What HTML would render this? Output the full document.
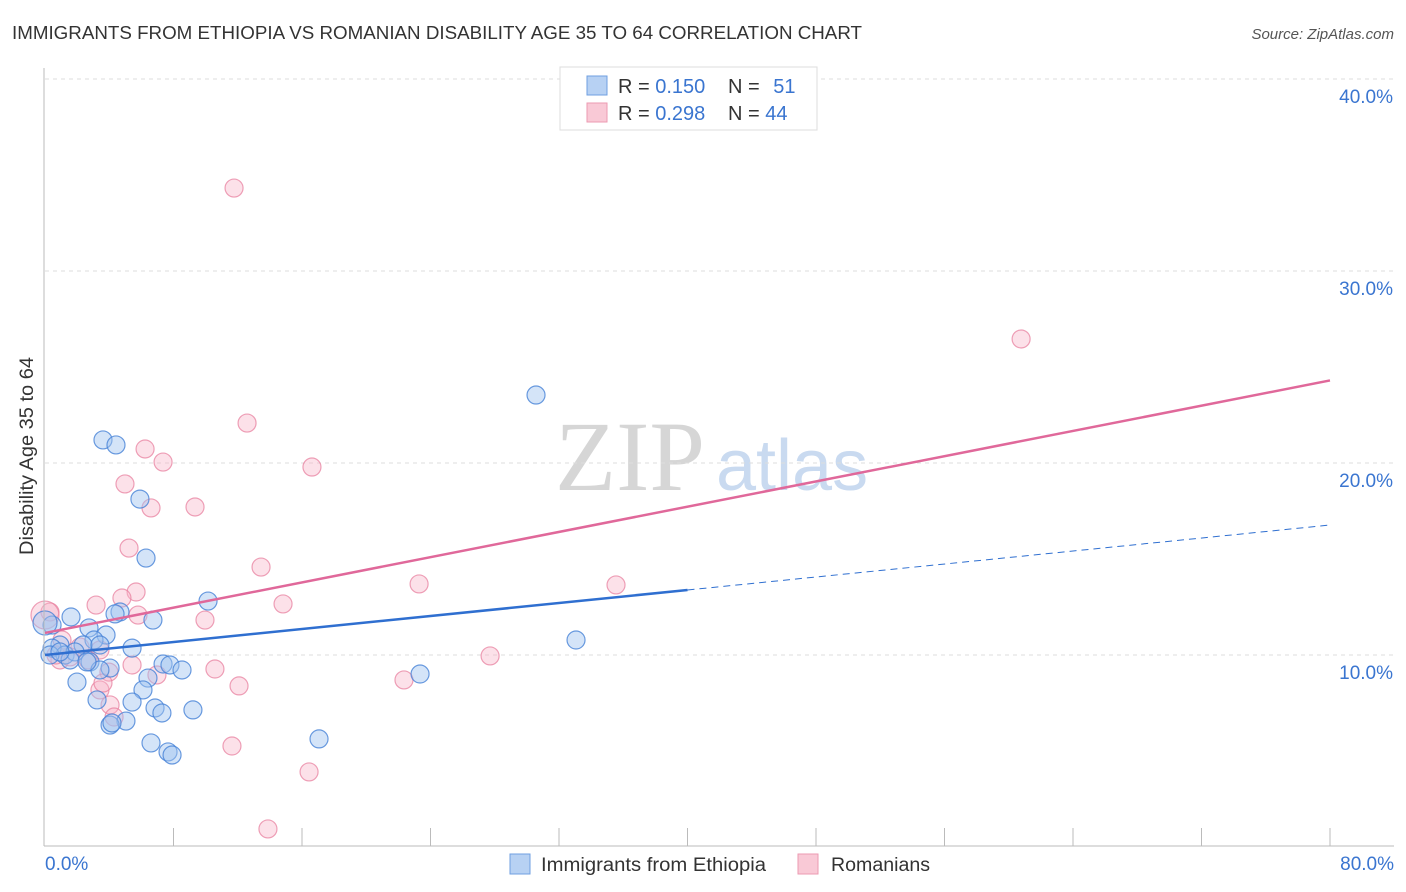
<!DOCTYPE html>
<html><head><meta charset="utf-8"><style>
body{margin:0;background:#fff;font-family:"Liberation Sans",sans-serif;}
#wrap{position:relative;width:1406px;height:892px;overflow:hidden;}
</style></head><body>
<div id="wrap">
<svg id="svg" width="1406" height="892" xmlns="http://www.w3.org/2000/svg">
<text x="12" y="39" font-size="18" fill="#333" textLength="850" lengthAdjust="spacingAndGlyphs">IMMIGRANTS FROM ETHIOPIA VS ROMANIAN DISABILITY AGE 35 TO 64 CORRELATION CHART</text>
<text x="1394" y="39" font-size="15" fill="#555" text-anchor="end" font-style="italic">Source: ZipAtlas.com</text>
<text x="33" y="456" font-size="19" fill="#333" text-anchor="middle" transform="rotate(-90 33 456)" textLength="198" lengthAdjust="spacingAndGlyphs">Disability Age 35 to 64</text>
<text x="555" y="490" font-size="100" fill="#d6d6d6" font-family="Liberation Serif,serif">ZIP</text>
<text x="716" y="490" font-size="72" fill="#c9daf0">atlas</text>
<g id="grid"></g><g id="pts"></g><g id="lines"></g>
<line x1="44" y1="68" x2="44" y2="846" stroke="#bbb"/>
<line x1="44" y1="846" x2="1394" y2="846" stroke="#bbb"/>
<text x="45" y="870" font-size="19" fill="#3a75d0">0.0%</text>
<text x="1394" y="870" font-size="19" fill="#3a75d0" text-anchor="end">80.0%</text>
<g>
<rect x="560" y="67" width="257" height="63" fill="#fff" stroke="#ddd"/>
<rect x="587" y="76" width="20" height="19" fill="#b7d1f3" stroke="#6f9fe0"/>
<rect x="587" y="103" width="20" height="19" fill="#f9c9d6" stroke="#ec9ab2"/>
<text x="618" y="93" font-size="20" fill="#333">R = <tspan fill="#3a75d0">0.150</tspan></text>
<text x="728" y="93" font-size="20" fill="#333">N = <tspan fill="#3a75d0" dx="8">51</tspan></text>
<text x="618" y="120" font-size="20" fill="#333">R = <tspan fill="#3a75d0">0.298</tspan></text>
<text x="728" y="120" font-size="20" fill="#333">N = <tspan fill="#3a75d0">44</tspan></text>
</g>
<g>
<rect x="510" y="854" width="20" height="20" fill="#b7d1f3" stroke="#6f9fe0"/>
<text x="541" y="871" font-size="19" fill="#333" textLength="225" lengthAdjust="spacingAndGlyphs">Immigrants from Ethiopia</text>
<rect x="798" y="854" width="20" height="20" fill="#f9c9d6" stroke="#ec9ab2"/>
<text x="831" y="871" font-size="19" fill="#333" textLength="99" lengthAdjust="spacingAndGlyphs">Romanians</text>
</g>
</svg></div>
<script>
const yTicks=[10,20,30,40];
const blueX=[3.61,4.42,30.57,5.91,6.29,10.15,4.67,6.72,1.62,0.44,2.74,3.80,3.05,5.42,33.06,0.93,2.37,0.44,1.25,1.87,2.80,4.05,3.42,7.35,7.78,8.53,6.41,1.99,6.10,23.35,3.24,5.42,6.85,7.28,9.21,5.04,4.05,4.17,6.60,7.66,7.91,17.06,0,0.31,1.56,0.93,3.42,4.36,2.61];
const blueY=[21.2,20.94,23.54,18.12,15.05,12.81,12.24,11.82,11.98,11.56,11.41,11.04,10.78,10.36,10.78,10.52,10.52,10.36,10.0,10.16,9.64,9.32,9.22,9.53,9.48,9.22,8.80,8.59,8.18,9.01,7.66,7.55,7.24,6.98,7.14,6.56,6.35,6.46,5.42,4.95,4.79,5.63,11.67,10.0,9.74,10.16,10.52,12.14,9.64];
const pinkX=[11.77,60.77,12.58,16.62,6.23,7.35,4.98,9.34,6.60,5.23,13.45,5.67,3.18,4.79,14.82,5.79,9.96,0.31,0,23.29,35.55,1.06,2.18,3.42,2.68,0.93,1.56,10.58,6.97,3.98,5.42,27.71,22.35,12.08,3.42,3.61,4.05,4.30,11.64,16.44,13.88,0.68];
const pinkY=[34.32,26.46,22.08,19.79,20.73,20.05,18.91,17.71,17.66,15.57,14.58,13.28,12.60,12.97,12.66,12.08,11.82,12.24,12.08,13.70,13.65,10.78,10.42,10.26,9.74,9.74,9.90,9.27,8.96,9.11,9.48,9.95,8.70,8.39,8.18,8.54,7.40,6.77,5.26,3.91,0.94,10.0];
const blueTrend=[10.0,16.77];
const pinkTrend=[11.15,24.3];
const NS='http://www.w3.org/2000/svg';
const X=v=>45+v*1285/80, Y=v=>847-v*19.2;
function mk(tag,attrs,parent){const e=document.createElementNS(NS,tag);for(const k in attrs)e.setAttribute(k,attrs[k]);parent.appendChild(e);return e;}
const grid=document.getElementById('grid'),pts=document.getElementById('pts'),lines=document.getElementById('lines');
yTicks.forEach(t=>{
 const l=mk('line',{x1:45,x2:1394,y1:Y(t),y2:Y(t),stroke:'#ddd','stroke-dasharray':'4 4'},grid);
 
 
 const tx=mk('text',{x:1393,y:Y(t)+24,'font-size':19,fill:'#3a75d0','text-anchor':'end'},grid);
 tx.textContent=t.toFixed(1)+'%';
 
 
});
for(let i=1;i<=10;i++){const tk=mk('line',{x1:X(i*8),x2:X(i*8),y1:828,y2:846,stroke:'#bbb'},grid);
 
 }
pinkX.forEach((x,i)=>{const c=mk('circle',{cx:X(x),cy:Y(pinkY[i]),r:(x===0?14:9),fill:'rgba(248,180,200,0.4)',stroke:'rgba(232,130,160,0.75)','stroke-width':1.2},pts);
 
 });
blueX.forEach((x,i)=>{const c=mk('circle',{cx:X(x),cy:Y(blueY[i]),r:(x===0?12:9),fill:'rgba(160,196,240,0.45)',stroke:'rgba(70,130,215,0.8)','stroke-width':1.2},pts);
 
 });
const bAt=v=>blueTrend[0]+(blueTrend[1]-blueTrend[0])*v/80;
let l1=mk('line',{x1:X(0),y1:Y(bAt(0)),x2:X(40),y2:Y(bAt(40)),stroke:'#2f6fd0','stroke-width':2.5},lines);


let l2=mk('line',{x1:X(40),y1:Y(bAt(40)),x2:X(80),y2:Y(bAt(80)),stroke:'#2f6fd0','stroke-width':1,'stroke-dasharray':'7 5'},lines);


let l3=mk('line',{x1:X(0),y1:Y(pinkTrend[0]),x2:X(80),y2:Y(pinkTrend[1]),stroke:'#e0689a','stroke-width':2.5},lines);


</script>
</body></html>
